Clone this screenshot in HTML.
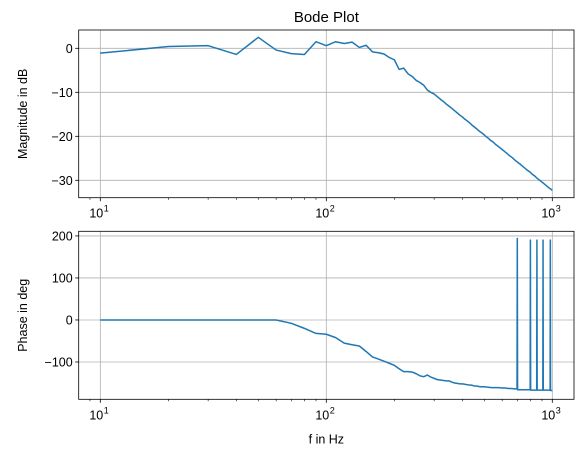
<!DOCTYPE html>
<html><head><meta charset="utf-8"><style>
html,body{margin:0;padding:0;background:#fff;}
svg{display:block;font-family:"Liberation Sans","DejaVu Sans",sans-serif;}
</style></head><body>
<svg id="chart" width="583" height="457" viewBox="0 0 583 457" xmlns="http://www.w3.org/2000/svg"></svg>
<script>
const magFreq = [10,20,30,40,50,60,70,80,90,100,110,120,130,140,150,160,170,180,190,200,210,220,230,240,250,260,270,280,290,300,310,320,330,340,350,360,370,380,390,400,410,420,430,440,450,460,470,480,490,500,510,520,530,540,550,560,570,580,590,600,610,620,630,640,650,660,670,680,690,700,710,720,730,740,750,760,770,780,790,800,810,820,830,840,850,860,870,880,890,900,910,920,930,940,950,960,970,980,990,1000];
const magValues = [-1.1,0.4,0.6,-1.4,2.5,-0.4,-1.2,-1.4,1.5,0.6,1.5,1.1,1.4,0.2,0.7,-0.8,-1.0,-1.3,-2.1,-2.6,-4.8,-4.5,-5.8,-6.4,-7.3,-7.8,-8.4,-9.5,-10.0,-10.4,-11.0,-11.6,-12.1,-12.7,-13.2,-13.7,-14.2,-14.7,-15.2,-15.6,-16.1,-16.5,-16.9,-17.4,-17.8,-18.2,-18.6,-19.0,-19.3,-19.7,-20.1,-20.4,-20.8,-21.1,-21.4,-21.8,-22.1,-22.4,-22.7,-23.0,-23.3,-23.6,-23.9,-24.2,-24.5,-24.7,-25.0,-25.3,-25.6,-25.8,-26.1,-26.3,-26.6,-26.8,-27.1,-27.3,-27.6,-27.8,-28.0,-28.2,-28.5,-28.7,-28.9,-29.1,-29.4,-29.6,-29.8,-30.0,-30.2,-30.4,-30.6,-30.8,-31.0,-31.2,-31.4,-31.6,-31.8,-31.9,-32.1,-32.3];
const phaseFreq = [10,20,30,40,50,60,70,80,90,100,110,120,130,140,150,160,170,180,190,200,210,220,230,240,250,260,270,280,290,300,310,320,330,340,350,360,370,380,390,400,410,420,430,440,450,460,470,480,490,500,520,540,560,580,600,620,640,660,680,698,700,702,798,800,802,853,855,857,908,910,912,978,980,982,1000];
const phaseValues = [0,0,0,0,0,0,-8,-20,-32,-34,-42,-55,-59,-62,-75,-88,-93,-98,-103,-108,-116,-123,-123,-124,-128,-133,-135,-131,-136,-139,-142,-143,-144,-145,-145,-148,-150,-151,-152,-152,-153,-154,-155,-155,-157,-157,-158,-159,-159,-159,-160,-161,-161,-161,-162,-162,-163,-163,-164,-164,194,-166,-166,190,-167,-167,190,-167,-167,190,-167,-167,190,-168,-168];
const magTicks = [0,-10,-20,-30];
const phaseTicks = [200,100,0,-100];
const decadeTicks = [10,100,1000];
const decadeLabels = ["1","2","3"];

const svg = document.getElementById('chart');
const NS = 'http://www.w3.org/2000/svg';
function mk(tag, attrs, parent){const e=document.createElementNS(NS,tag);for(const k in attrs)e.setAttribute(k,attrs[k]);(parent||svg).appendChild(e);return e;}
const L=78.7,R=574;
const xLogMin=0.9044,xLogMax=3.096;
function xS(f){return L+(Math.log10(f)-xLogMin)/(xLogMax-xLogMin)*(R-L);}

function drawAxes(name,top,bottom,yMin,yMax,yTicks,freqs,vals,ylabel,xlabel){
  const yS=v=>bottom-(v-yMin)/(yMax-yMin)*(bottom-top);
  const g=mk('g',{});
  
  
  // grid
  decadeTicks.forEach(f=>{const l=mk('line',{x1:xS(f),x2:xS(f),y1:top,y2:bottom,stroke:'#b0b0b0','stroke-width':0.8},g);
    });
  yTicks.forEach(v=>{const l=mk('line',{x1:L,x2:R,y1:yS(v),y2:yS(v),stroke:'#b0b0b0','stroke-width':0.8},g);
    });
  // series
  const pts=freqs.map((f,i)=>xS(f).toFixed(2)+','+yS(vals[i]).toFixed(2)).join(' ');
  const pl=mk('polyline',{points:pts,fill:'none',stroke:'#1f77b4','stroke-width':1.5,'stroke-linejoin':'round'},g);
  
  
  // frame
  const fr=mk('rect',{x:L,y:top,width:R-L,height:bottom-top,fill:'none',stroke:'#000','stroke-width':0.8},g);
  
  // y ticks
  yTicks.forEach(v=>{mk('line',{x1:L-3.5,x2:L,y1:yS(v),y2:yS(v),stroke:'#000','stroke-width':0.8},g);
    const t=mk('text',{x:L-6,y:yS(v)+4.5,'text-anchor':'end','font-size':'12.5px',fill:'#000'},g);
    t.textContent=(v<0?'\u2212'+Math.abs(v):String(v));
    });
  // x ticks major + minor
  for(let d=1;d<=1000;d*=10){for(let m=1;m<10;m++){const f=d*m;const lg=Math.log10(f);
    if(lg<xLogMin||lg>xLogMax)continue;const maj=(m===1);
    mk('line',{x1:xS(f),x2:xS(f),y1:bottom,y2:bottom+(maj?3.5:2),stroke:'#000','stroke-width':maj?0.8:0.6},g);}}
  decadeTicks.forEach((f,i)=>{const t=mk('text',{x:xS(f)-4,y:bottom+20,'text-anchor':'middle','font-size':'12.5px',fill:'#000'},g);
    t.textContent='10';
    
    const s=mk('text',{x:xS(f)+6,y:bottom+14,'text-anchor':'middle','font-size':'9px',fill:'#000'},g);
    s.textContent=decadeLabels[i];
    });
  const yl=mk('text',{x:0,y:0,'text-anchor':'middle','font-size':'12.5px',fill:'#000',transform:`translate(27,${(top+bottom)/2}) rotate(-90)`},g);
  yl.textContent=ylabel;
  
  if(xlabel){const xl=mk('text',{x:(L+R)/2,y:bottom+44,'text-anchor':'middle','font-size':'12.5px',fill:'#000'},g);
    xl.textContent=xlabel;}
}
const title=mk('text',{x:(L+R)/2,y:22,'text-anchor':'middle','font-size':'15px',fill:'#000'});
title.textContent='Bode Plot';


drawAxes('magnitude',30,197.7,-33.95,4.16,magTicks,magFreq,magValues,'Magnitude in dB',null);
drawAxes('phase',231.3,399.3,-188.8,211,phaseTicks,phaseFreq,phaseValues,'Phase in deg','f in Hz');
</script>
</body></html>
